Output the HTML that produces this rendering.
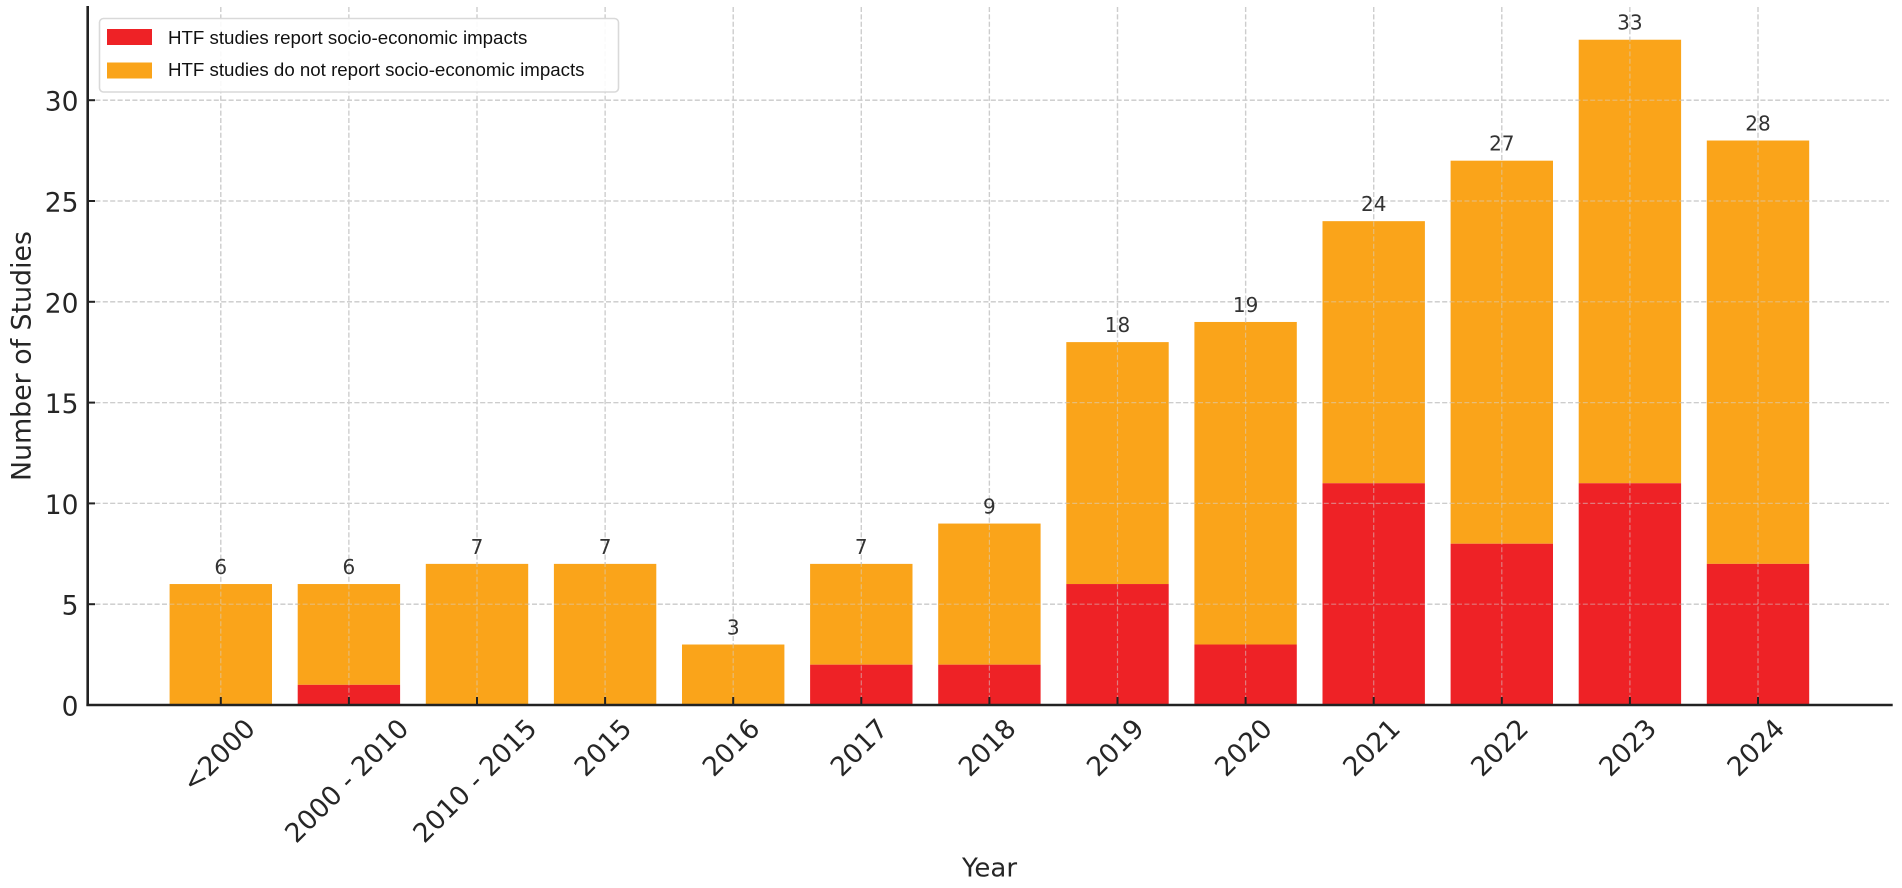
<!DOCTYPE html>
<html lang="en">
<head>
<meta charset="utf-8">
<title>HTF studies by year</title>
<style>
html,body{margin:0;padding:0;background:#fff;}
svg{display:block;}
text{font-family:"DejaVu Sans",sans-serif;}
.legend-text{font-family:"Liberation Sans",sans-serif;font-size:18.7px;fill:#111;}
</style>
</head>
<body>
<svg id="chart" xmlns="http://www.w3.org/2000/svg" width="1902" height="888" viewBox="0 0 1902 888">
  <g id="grid-under"></g>
  <g id="bars"></g>
  <g id="grid-over"></g>
  <g id="axes">
    <line x1="87.7" y1="6" x2="87.7" y2="706" stroke="#222" stroke-width="2.6"></line>
    <line x1="86.4" y1="705" x2="1892.7" y2="705" stroke="#222" stroke-width="2.6"></line>
  </g>
  <g id="labels"></g>
  <text transform="translate(30.5,356) rotate(-90)" text-anchor="middle" font-size="26.8" fill="#262626">Number of Studies</text>
  <text x="989.5" y="876.5" text-anchor="middle" font-size="26" fill="#262626">Year</text>
  <g>
    <rect x="99.5" y="18.5" width="519" height="73.5" rx="4" ry="4" fill="#fff" fill-opacity="0.9" stroke="#d9d9d9" stroke-width="1.6"></rect>
    <rect x="107" y="29" width="45" height="16" fill="#ee2226"></rect>
    <text class="legend-text" x="168" y="44">HTF studies report socio-economic impacts</text>
    <rect x="107" y="62.5" width="45" height="16" fill="#faa41a"></rect>
    <text class="legend-text" x="168" y="76">HTF studies do not report socio-economic impacts</text>
  </g>
</svg>
<script>
const categories = ['<2000', '2000 - 2010', '2010 - 2015', '2015', '2016', '2017', '2018', '2019', '2020', '2021', '2022', '2023', '2024'];
const reportValues = [0, 1, 0, 0, 0, 2, 2, 6, 3, 11, 8, 11, 7];
const noReportValues = [6, 5, 7, 7, 3, 5, 7, 12, 16, 13, 19, 22, 21];
const yTicks = [0, 5, 10, 15, 20, 25, 30];

const NS = 'http://www.w3.org/2000/svg';
const X0 = 220.8, XSTEP = 128.1, BAR_W = 102.4;
const Y0 = 705, YUNIT = 20.16;
function xScale(i) { return X0 + i * XSTEP; }
function yScale(v) { return Y0 - v * YUNIT; }
function make(tag, parent, attrs) {
  const el = document.createElementNS(NS, tag);
  for (const k in attrs) el.setAttribute(k, attrs[k]);
  parent.appendChild(el);
  return el;
}
const barsG = document.getElementById('bars');
const gridUnder = document.getElementById('grid-under');
const gridOver = document.getElementById('grid-over');
const axesG = document.getElementById('axes');
const labelsG = document.getElementById('labels');

categories.forEach(function (cat, i) {
  const cx = xScale(i);
  const r = reportValues[i], n = noReportValues[i], total = r + n;

  const orange = make('rect', barsG, { x: cx - BAR_W / 2, y: yScale(total), width: BAR_W, height: yScale(r) - yScale(total), fill: '#faa41a' });
  
  

  const red = make('rect', barsG, { x: cx - BAR_W / 2, y: yScale(r), width: BAR_W, height: yScale(0) - yScale(r), fill: '#ee2226' });
  
  

  const gridLine = make('line', gridUnder, { x1: cx, x2: cx, y1: 7, y2: Y0, stroke: '#c6c6c6', 'stroke-width': 1.3, 'stroke-dasharray': '5 2.4' });
  
  

  const gridLineOver = make('line', gridOver, { x1: cx, x2: cx, y1: 7, y2: Y0, stroke: '#d4d4d4', 'stroke-width': 1.2, 'stroke-dasharray': '5 2.4', 'stroke-opacity': 0.5 });
  
  

  const tick = make('line', axesG, { x1: cx, x2: cx, y1: Y0 - 8, y2: Y0, stroke: '#222', 'stroke-width': 2 });
  
  

  const valueLabel = make('text', labelsG, { x: cx, y: yScale(total) - 10, 'text-anchor': 'middle', 'font-size': 20, fill: '#333' });
  valueLabel.textContent = String(total);
  
  

  const tickLabel = make('text', labelsG, { 'text-anchor': 'middle', 'font-size': 26.5, fill: '#262626' });
  tickLabel.textContent = cat;
  
  
  const w = tickLabel.getComputedTextLength();
  const cy = 716 + (w + 21) * Math.SQRT1_2 / 2;
  tickLabel.setAttribute('transform', 'translate(' + (cx - 2.5) + ',' + cy + ') rotate(-45) translate(0,9.5)');
});

yTicks.forEach(function (v) {
  const y = yScale(v);
  if (v > 0) {
    const gridLine = make('line', gridUnder, { x1: 88, x2: 1889, y1: y, y2: y, stroke: '#c6c6c6', 'stroke-width': 1.3, 'stroke-dasharray': '5 2.4' });
    
    

    const gridLineOver = make('line', gridOver, { x1: 88, x2: 1889, y1: y, y2: y, stroke: '#d4d4d4', 'stroke-width': 1.2, 'stroke-dasharray': '5 2.4', 'stroke-opacity': 0.5 });
    
    
  }
  const tick = make('line', axesG, { x1: 88, x2: 95, y1: y, y2: y, stroke: '#222', 'stroke-width': 2 });
  
  

  const label = make('text', labelsG, { x: 78.5, y: y + 10.5, 'text-anchor': 'end', 'font-size': 26.5, fill: '#262626' });
  label.textContent = String(v);
  
  
});
</script>
</body>
</html>
